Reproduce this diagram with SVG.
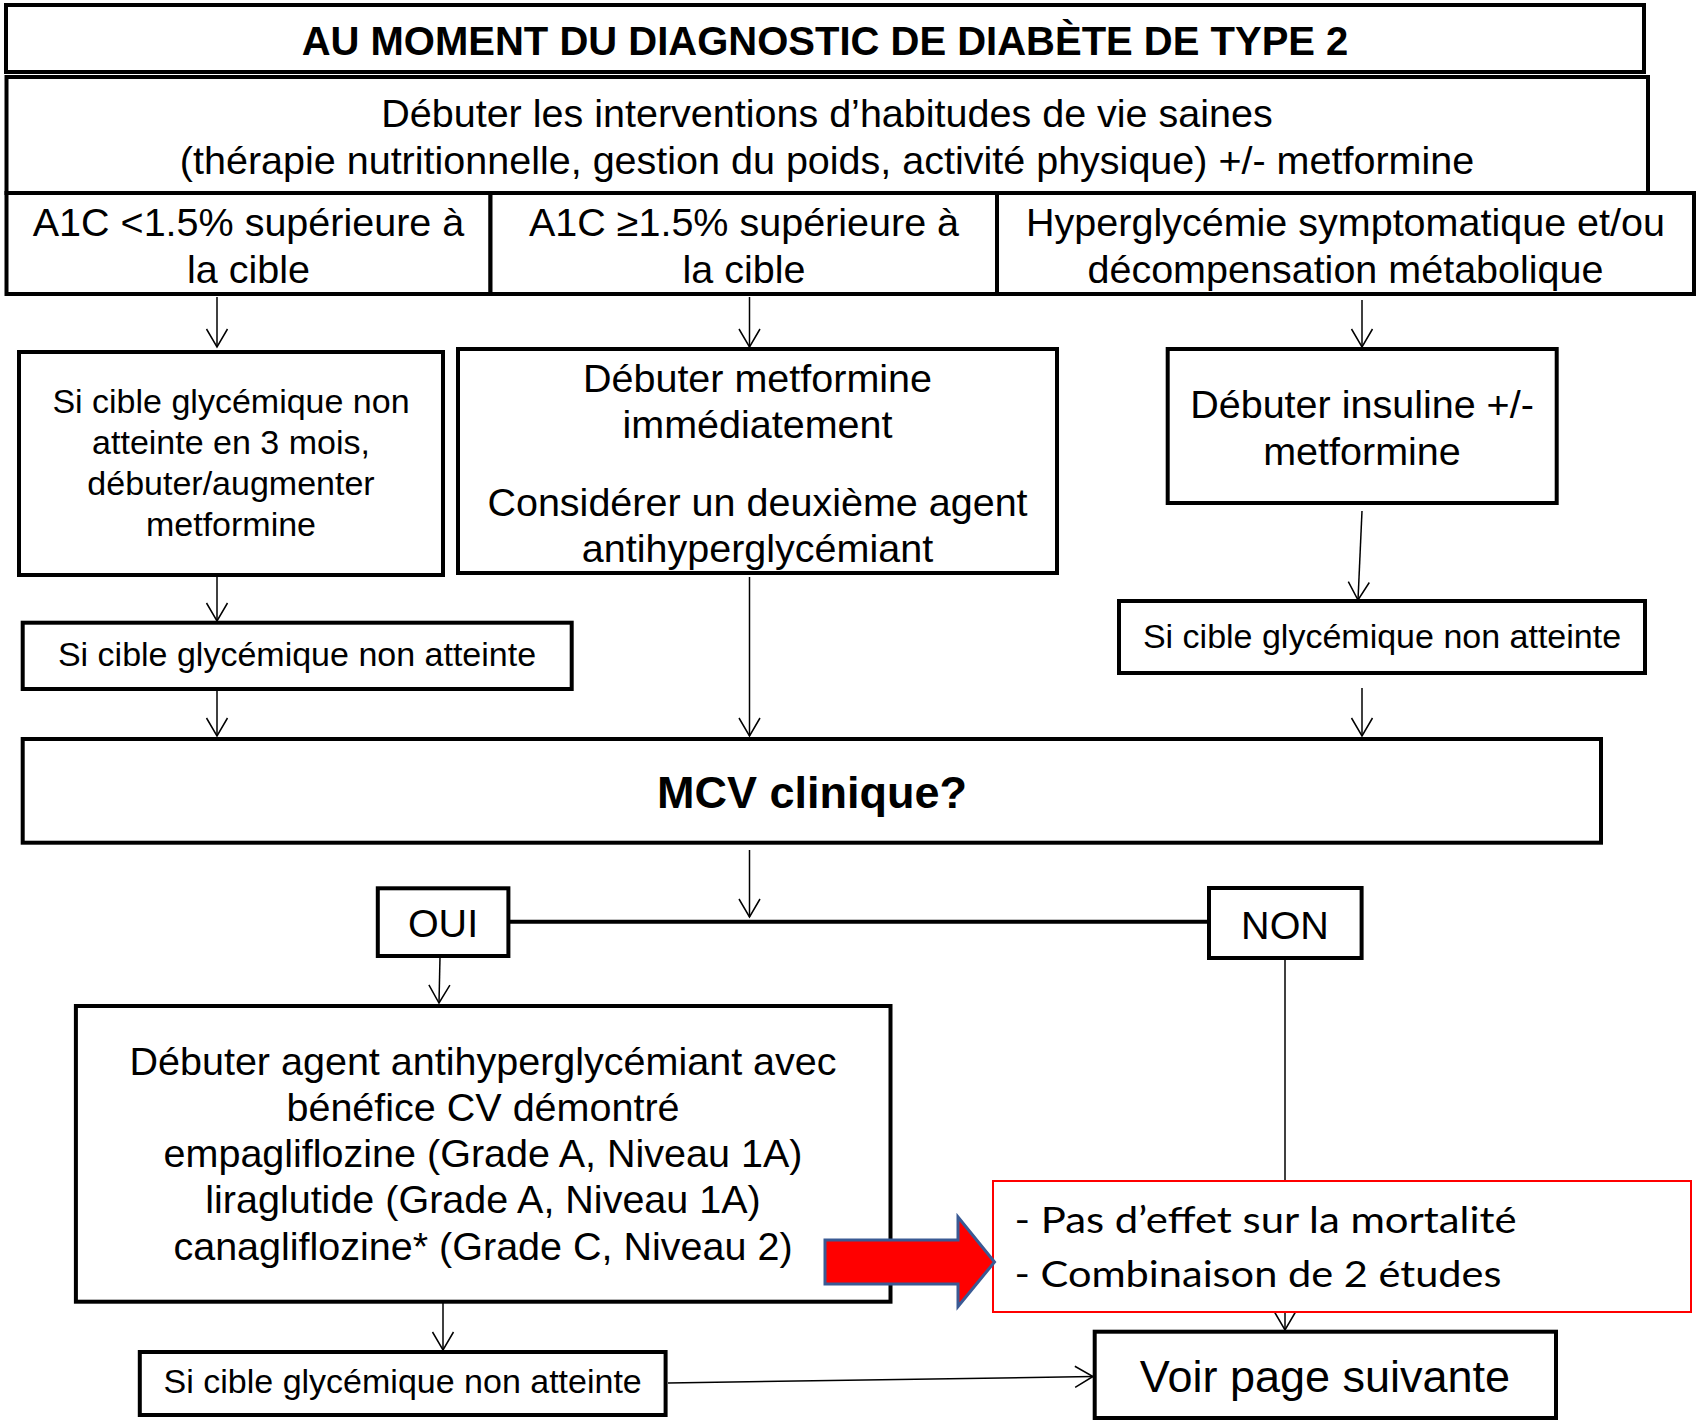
<svg xmlns="http://www.w3.org/2000/svg" width="1697" height="1421" viewBox="0 0 1697 1421">
<defs>
<style>
.t{font-family:"Liberation Sans",Arial,sans-serif;fill:#000;text-anchor:middle}
.m{font-size:39.5px}
.s{font-size:34px}
.b{font-weight:bold}
.box{fill:#fff;stroke:#000;stroke-width:4}
.c{fill:none;stroke:#000;stroke-width:1.5}
.cal{font-family:Lato,"Open Sans","Liberation Sans",sans-serif;font-size:37px;fill:#000}
</style>
<marker id="ah" markerUnits="userSpaceOnUse" viewBox="-22 -14 24 28" markerWidth="24" markerHeight="28" refX="0" refY="0" orient="auto">
<path d="M-18,-10.5 L0,0 L-18,10.5" fill="none" stroke="#000" stroke-width="1.5"/>
</marker>
</defs>
<rect width="1697" height="1421" fill="#fff"/>
<g id="connectors">
<line class="c" x1="217" y1="297" x2="217" y2="347" marker-end="url(#ah)"/>
<line class="c" x1="749.5" y1="297" x2="749.5" y2="347" marker-end="url(#ah)"/>
<line class="c" x1="1362" y1="300" x2="1362" y2="347" marker-end="url(#ah)"/>
<line class="c" x1="217" y1="545" x2="217" y2="621" marker-end="url(#ah)"/>
<line class="c" x1="217" y1="690" x2="217" y2="736" marker-end="url(#ah)"/>
<line class="c" x1="749.5" y1="577" x2="749.5" y2="736" marker-end="url(#ah)"/>
<line class="c" x1="1362" y1="511" x2="1358" y2="600" marker-end="url(#ah)"/>
<line class="c" x1="1362" y1="688" x2="1362" y2="736" marker-end="url(#ah)"/>
<line class="c" x1="749.5" y1="850" x2="749.5" y2="917" marker-end="url(#ah)"/>
<line x1="508" y1="921.7" x2="1209" y2="921.7" stroke="#000" stroke-width="4"/>
<line class="c" x1="440" y1="957" x2="439" y2="1003" marker-end="url(#ah)"/>
<line class="c" x1="1285" y1="953" x2="1285" y2="1330" marker-end="url(#ah)"/>
<line class="c" x1="443" y1="1303" x2="443" y2="1350" marker-end="url(#ah)"/>
<line class="c" x1="668" y1="1383" x2="1093" y2="1376.5" stroke-width="2" marker-end="url(#ah)"/>
</g>
<g id="title">
<rect class="box" x="6" y="5" width="1638" height="67" stroke-width="3.5"/>
<text class="t b" x="825" y="55" font-size="40">AU MOMENT DU DIAGNOSTIC DE DIABÈTE DE TYPE 2</text>
</g>
<g id="lifestyle">
<rect class="box" x="6.5" y="77" width="1641.5" height="116"/>
<text class="t m" x="827" y="127">Débuter les interventions d’habitudes de vie saines</text>
<text class="t m" x="827" y="174">(thérapie nutritionnelle, gestion du poids, activité physique) +/- metformine</text>
</g>
<g id="a1c-low">
<rect class="box" x="6.5" y="193" width="484" height="101"/>
<text class="t m" x="248.5" y="236">A1C &lt;1.5% supérieure à</text>
<text class="t m" x="248.5" y="283">la cible</text>
</g>
<g id="a1c-high">
<rect class="box" x="490.5" y="193" width="506.5" height="101"/>
<text class="t m" x="744" y="236">A1C ≥1.5% supérieure à</text>
<text class="t m" x="744" y="283">la cible</text>
</g>
<g id="hyperglycemie">
<rect class="box" x="997" y="193" width="697" height="101"/>
<text class="t m" x="1345.5" y="236">Hyperglycémie symptomatique et/ou</text>
<text class="t m" x="1345.5" y="283">décompensation métabolique</text>
</g>
<g id="si-cible-3mois">
<rect class="box" x="19" y="352" width="424" height="223"/>
<text class="t s" x="231" y="413">Si cible glycémique non</text>
<text class="t s" x="231" y="454">atteinte en 3 mois,</text>
<text class="t s" x="231" y="495">débuter/augmenter</text>
<text class="t s" x="231" y="536">metformine</text>
</g>
<g id="metformine-immediate">
<rect class="box" x="458" y="349" width="599" height="224"/>
<text class="t m" x="757.5" y="392">Débuter metformine</text>
<text class="t m" x="757.5" y="438">immédiatement</text>
<text class="t m" x="757.5" y="516">Considérer un deuxième agent</text>
<text class="t m" x="757.5" y="562">antihyperglycémiant</text>
</g>
<g id="insuline">
<rect class="box" x="1167.7" y="349" width="389" height="154"/>
<text class="t m" x="1362" y="418">Débuter insuline +/-</text>
<text class="t m" x="1362" y="465">metformine</text>
</g>
<g id="si-cible-left">
<rect class="box" x="22.7" y="622.7" width="549" height="66.3"/>
<text class="t s" x="297" y="666">Si cible glycémique non atteinte</text>
</g>
<g id="si-cible-right">
<rect class="box" x="1119" y="601" width="526" height="72"/>
<text class="t s" x="1382" y="648">Si cible glycémique non atteinte</text>
</g>
<g id="mcv">
<rect class="box" x="22.7" y="739" width="1578.3" height="103.7"/>
<text class="t b" x="812" y="808" font-size="45">MCV clinique?</text>
</g>
<g id="oui">
<rect class="box" x="377.8" y="888.3" width="130.6" height="67.7"/>
<text class="t m" x="443" y="937">OUI</text>
</g>
<g id="non">
<rect class="box" x="1209" y="888" width="152.6" height="70"/>
<text class="t m" x="1285" y="939">NON</text>
</g>
<g id="agent-cv">
<rect class="box" x="75.9" y="1006" width="814.6" height="295.7"/>
<text class="t m" x="483" y="1075">Débuter agent antihyperglycémiant avec</text>
<text class="t m" x="483" y="1121">bénéfice CV démontré</text>
<text class="t m" x="483" y="1167">empagliflozine (Grade A, Niveau 1A)</text>
<text class="t m" x="483" y="1213">liraglutide (Grade A, Niveau 1A)</text>
<text class="t m" x="483" y="1260">canagliflozine* (Grade C, Niveau 2)</text>
</g>
<g id="note">
<rect x="993" y="1181" width="698" height="131" fill="#fff" stroke="#ff0000" stroke-width="2"/>
<text class="cal" x="1014.5" y="1233" textLength="502" lengthAdjust="spacingAndGlyphs">- Pas d’effet sur la mortalité</text>
<text class="cal" x="1014.5" y="1287" textLength="487" lengthAdjust="spacingAndGlyphs">- Combinaison de 2 études</text>
</g>
<g id="callout-arrow">
<polygon points="825,1240 958,1240 958,1217 994.5,1262 958,1306.5 958,1284 825,1284" fill="#ff0000" stroke="#3a5a94" stroke-width="3" stroke-linejoin="miter"/>
</g>
<g id="si-cible-bottom">
<rect class="box" x="139.8" y="1352" width="525.8" height="63"/>
<text class="t s" x="402.7" y="1393">Si cible glycémique non atteinte</text>
</g>
<g id="voir-page">
<rect class="box" x="1094.7" y="1331.7" width="461.3" height="86.3" stroke-width="4.5"/>
<text class="t" x="1325" y="1392" font-size="45">Voir page suivante</text>
</g>
</svg>
